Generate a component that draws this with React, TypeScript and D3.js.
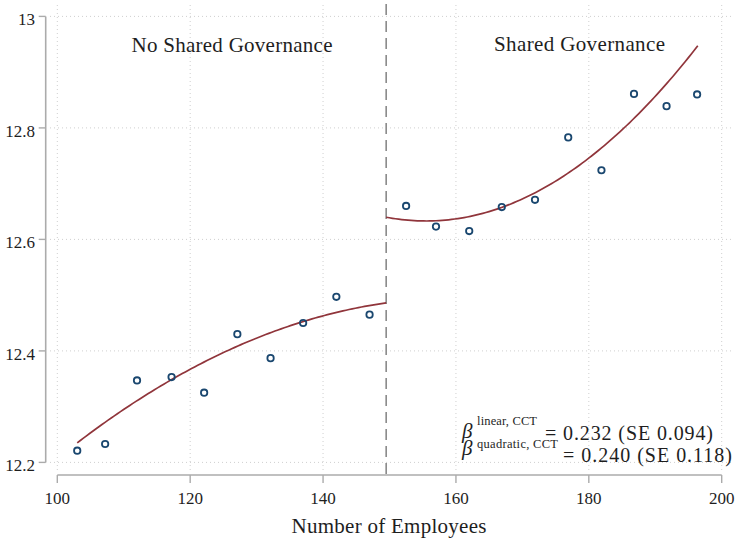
import React from "react";
import * as d3 from "d3";

// Binned means: employees (x) and log outcome (y)
const leftX = [103.0, 107.2, 112.0, 117.2, 122.1, 127.1, 132.1, 137.0, 142.0, 147.0];
const leftY = [12.221, 12.233, 12.347, 12.353, 12.325, 12.430, 12.387, 12.450, 12.497, 12.465];
const rightX = [152.5, 157.0, 162.0, 166.9, 171.9, 176.9, 181.9, 186.8, 191.7, 196.3];
const rightY = [12.660, 12.623, 12.615, 12.658, 12.671, 12.783, 12.724, 12.861, 12.839, 12.860];

// Quadratic fits around the cutoff: [intercept, slope, curvature] in (x - cutoff)
const cutoff = 149.5;
const leftFit = [12.486, 0.001671, -0.00008011];
const rightFit = [12.6398, -0.002255, 0.0001879];
const leftRange = [103.0, 149.5];
const rightRange = [149.5, 196.4];

const xTicks = [100, 120, 140, 160, 180, 200];
const yTicks = [12.2, 12.4, 12.6, 12.8, 13];
const yTickLabels = ["12.2", "12.4", "12.6", "12.8", "13"];

const W = 739;
const H = 539;
const FONT = "Liberation Serif";
const NAVY = "#1a476f";
const MAROON = "#90353b";
const AXIS = "#ababab";
const GRID = "#cfcfcf";

const x = d3.scaleLinear().domain([100, 200]).range([57.3, 721.7]);
const y = d3.scaleLinear().domain([12.2, 13]).range([462.4, 16.4]);

function fitPath(coef: number[], range: number[]) {
  const xs = d3.range(0, 101).map((i) => range[0] + ((range[1] - range[0]) * i) / 100);
  const line = d3
    .line<number>()
    .x((v) => x(v))
    .y((v) => {
      const u = v - cutoff;
      return y(coef[0] + coef[1] * u + coef[2] * u * u);
    });
  return line(xs) || "";
}

const txt = { fontFamily: FONT, fill: "#1e1e1e" } as React.CSSProperties;

export default function App() {
  const plotLeft = 50;
  const plotRight = 732;
  const plotTop = 5;
  const plotBottom = 470;
  const axisY = 475;
  const axisX = 45.7;

  return (
    <svg width={W} height={H} style={{ position: "absolute", left: 0, top: 0, background: "#fff" }}>
      <rect width={W} height={H} fill="#fff" />

      {/* grid */}
      {xTicks.map((t) => (
        <line
          key={"gx" + t}
          x1={x(t)}
          x2={x(t)}
          y1={plotTop}
          y2={plotBottom}
          stroke={GRID}
          strokeWidth={1}
          strokeDasharray="1,3"
        />
      ))}
      {yTicks.map((t) => (
        <line
          key={"gy" + t}
          x1={plotLeft}
          x2={plotRight}
          y1={y(t)}
          y2={y(t)}
          stroke={GRID}
          strokeWidth={1}
          strokeDasharray="1,3"
        />
      ))}

      {/* y axis */}
      <line x1={axisX} x2={axisX} y1={y(13)} y2={y(12.2)} stroke={AXIS} strokeWidth={1.6} />
      {yTicks.map((t, i) => (
        <g key={"yt" + t}>
          <line x1={axisX - 7} x2={axisX} y1={y(t)} y2={y(t)} stroke={AXIS} strokeWidth={1.4} />
          <text x={35} y={y(t) + 9} textAnchor="end" fontSize={17} style={txt}>
            {yTickLabels[i]}
          </text>
        </g>
      ))}

      {/* x axis */}
      <line x1={x(100)} x2={x(200)} y1={axisY} y2={axisY} stroke={AXIS} strokeWidth={1.6} />
      {xTicks.map((t) => (
        <g key={"xt" + t}>
          <line x1={x(t)} x2={x(t)} y1={axisY} y2={axisY + 8} stroke={AXIS} strokeWidth={1.4} />
          <text x={x(t)} y={503.5} textAnchor="middle" fontSize={17} style={txt}>
            {t}
          </text>
        </g>
      ))}
      <text x={389} y={533} textAnchor="middle" fontSize={21} style={txt} textLength={195}>
        Number of Employees
      </text>

      {/* cutoff */}
      <line
        x1={x(cutoff)}
        x2={x(cutoff)}
        y1={4}
        y2={axisY}
        stroke="#8a8a8a"
        strokeWidth={1.6}
        strokeDasharray="11,6"
      />

      {/* fits */}
      <path d={fitPath(leftFit, leftRange)} fill="none" stroke={MAROON} strokeWidth={1.7} />
      <path d={fitPath(rightFit, rightRange)} fill="none" stroke={MAROON} strokeWidth={1.7} />

      {/* binned points */}
      {leftX.map((v, i) => (
        <circle key={"l" + i} cx={x(v)} cy={y(leftY[i])} r={3.2} fill="none" stroke={NAVY} strokeWidth={1.8} />
      ))}
      {rightX.map((v, i) => (
        <circle key={"r" + i} cx={x(v)} cy={y(rightY[i])} r={3.2} fill="none" stroke={NAVY} strokeWidth={1.8} />
      ))}

      {/* region labels */}
      <text x={232} y={52.3} textAnchor="middle" fontSize={21} style={txt} textLength={201}>
        No Shared Governance
      </text>
      <text x={579.5} y={50.7} textAnchor="middle" fontSize={21} style={txt} textLength={171}>
        Shared Governance
      </text>

      {/* estimates */}
      <text x={462} y={438} fontSize={21} fontStyle="italic" style={txt}>
        β
      </text>
      <text x={477} y={425} fontSize={12.5} style={txt} textLength={60}>
        linear, CCT
      </text>
      <text x={545} y={440} fontSize={20} style={txt} textLength={168}>
        = 0.232 (SE 0.094)
      </text>
      <text x={462} y={455} fontSize={21} fontStyle="italic" style={txt}>
        β
      </text>
      <text x={477} y={448} fontSize={12.5} style={txt} textLength={81}>
        quadratic, CCT
      </text>
      <text x={563} y={462} fontSize={20} style={txt} textLength={169}>
        = 0.240 (SE 0.118)
      </text>
    </svg>
  );
}
